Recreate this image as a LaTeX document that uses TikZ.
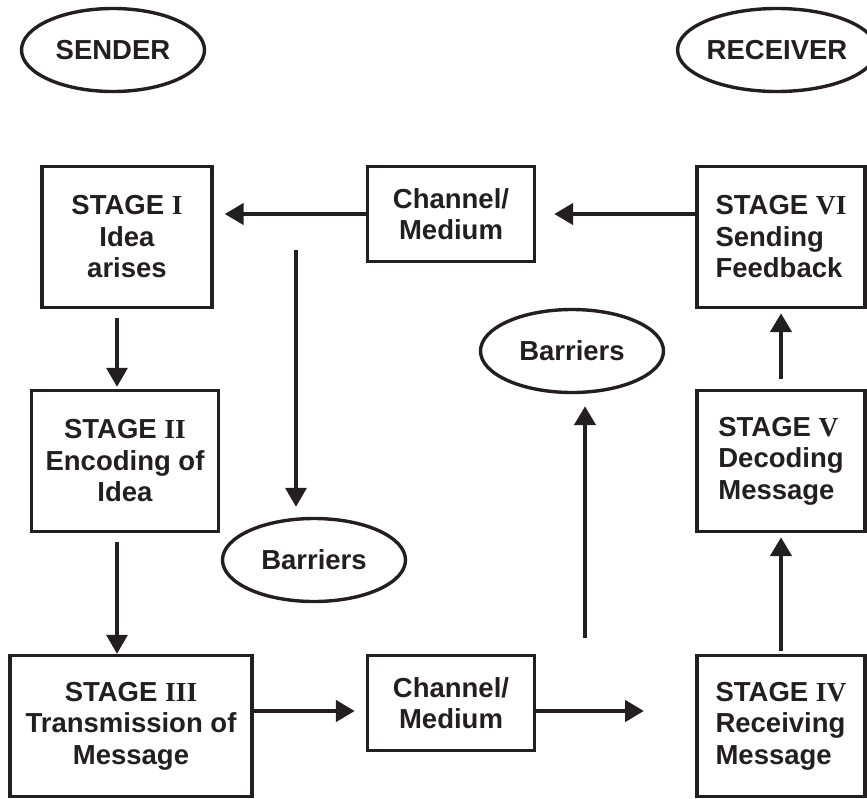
\documentclass[tikz,border=0pt]{standalone}
\usepackage{fontspec}
\setmainfont{Liberation Sans}
\newfontfamily\romfont{Liberation Serif}
\usetikzlibrary{shapes.geometric,arrows.meta}
\definecolor{ink}{HTML}{231F20}
\newcommand{\stg}[1]{STAGE {\romfont\bfseries #1}}

\begin{document}
\begin{tikzpicture}[x=1pt,y=-1pt,
  every node/.style={font=\fontsize{27.5}{31.5}\selectfont\bfseries,text=ink},
  stage/.style={draw=ink,line width=3.4pt,minimum width=168pt,minimum height=141pt,inner sep=0pt,align=center},
  chan/.style={draw=ink,line width=3.4pt,minimum width=167pt,minimum height=95pt,inner sep=0pt,align=center},
  oval/.style={shape=ellipse,draw=ink,line width=3.4pt,minimum width=183pt,minimum height=83pt,inner sep=0pt},
  arr/.style={draw=ink,line width=4.6pt,-{Triangle[length=19pt,width=21pt]}},
  thin arr/.style={arr,line width=3.4pt}]
\useasboundingbox (0,0) rectangle (867,798);
\node[oval] (snd) at (113,50) {SENDER};
\node[oval,minimum width=174pt] (rcv) at (777,50) {RECEIVER};
\node[stage,minimum width=170pt] (S1) at (127,237) {\stg{I}\\Idea\\arises};
\node[chan] (C1) at (451,214) {Channel/\\Medium};
\node[stage,align=left] (S6) at (781,237) {\stg{VI}\\Sending\\Feedback};
\node[stage,minimum width=187pt] (S2) at (125,461) {\stg{II}\\Encoding of\\Idea};
\node[stage,align=left] (S5) at (781,461) {\stg{V}\\Decoding\\Message};
\node[stage,minimum width=242pt] (S3) at (131,726) {\stg{III}\\Transmission of\\Message};
\node[chan] (C2) at (451,703) {Channel/\\Medium};
\node[stage,align=left] (S4) at (781,726) {\stg{IV}\\Receiving\\Message};
\node[oval] (B1) at (572,351) {Barriers};
\node[oval] (B2) at (314,560) {Barriers};
\coordinate (b2top) at (296,250);
\coordinate (b1foot) at (585,638);
\coordinate (gap) at (644,711);
\draw[arr,shorten >=11pt] (C1.west) -- (S1.east |- C1.west);
\draw[arr,shorten >=18pt] (S6.west |- C1.east) -- (C1.east);
\draw[thin arr,shorten <=9pt,shorten >=2pt] ([xshift=-10pt]S1.south) -- ([xshift=-10pt]S1.south |- S2.north);
\draw[thin arr,shorten <=9pt] ([xshift=-8pt]S2.south) -- ([xshift=-8pt]S2.south |- S3.north);
\draw[thin arr,shorten >=10pt] (b2top) -- (b2top |- B2.north);
\draw[arr,shorten >=11pt] (S3.east |- gap) -- (C2.west |- gap);
\draw[arr] (C2.east |- gap) -- (gap);
\draw[arr,shorten >=12pt] (b1foot) -- (b1foot |- B1.south);
\draw[arr,shorten <=3pt,shorten >=4pt] (S4.north) -- (S5.south);
\draw[arr,shorten <=10pt,shorten >=4pt] (S5.north) -- (S6.south);
\end{tikzpicture}
\end{document}
